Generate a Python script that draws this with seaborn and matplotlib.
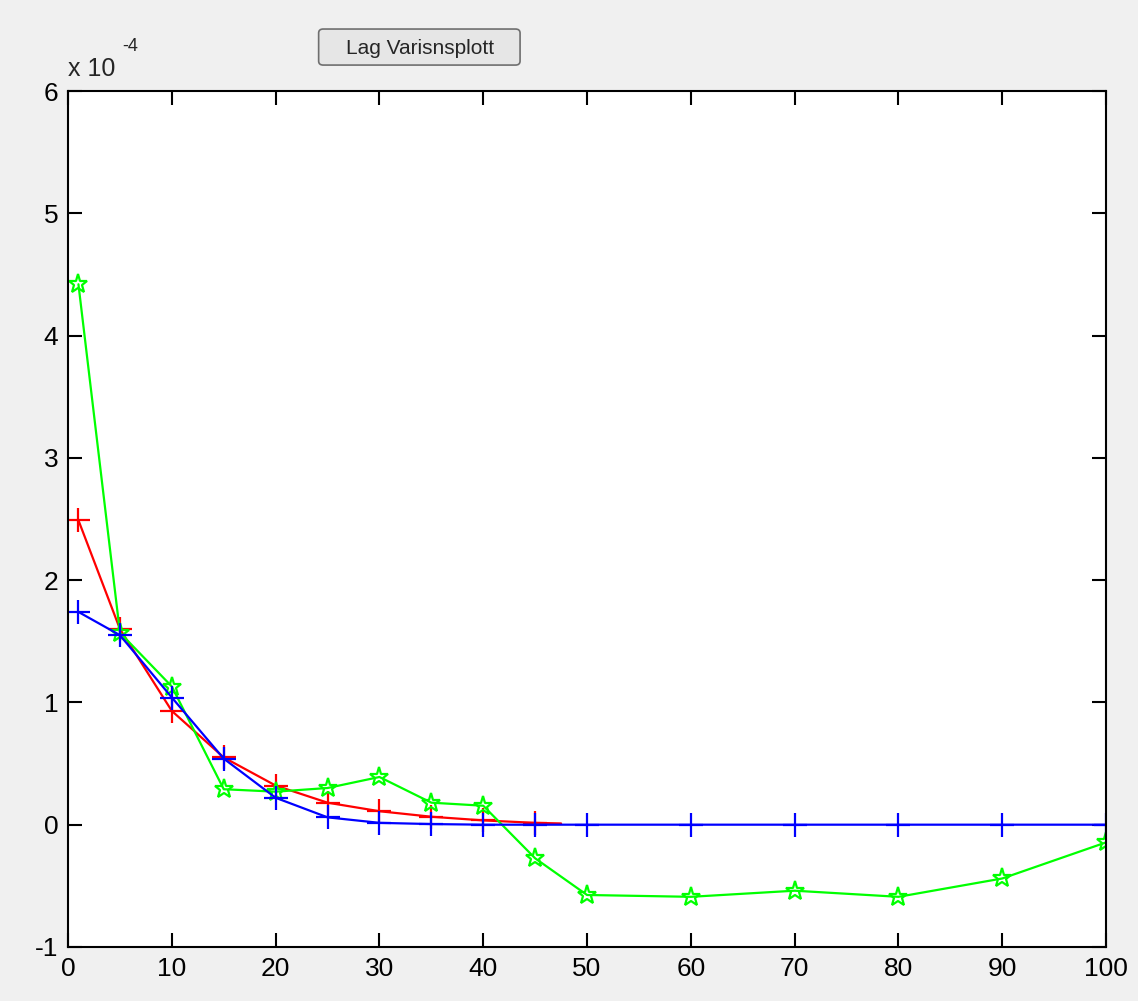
import matplotlib
matplotlib.use('Agg')
import matplotlib.pyplot as plt
from matplotlib.patches import FancyBboxPatch
import seaborn as sns
import pandas as pd

# lag values (x) and variance estimates, in units of 1e-4
lags = [1, 5, 10, 15, 20, 25, 30, 35, 40, 45, 50, 60, 70, 80, 90, 100]
green_vals = [4.42, 1.57, 1.13, 0.29, 0.27, 0.30, 0.39, 0.18, 0.155, -0.275,
              -0.575, -0.59, -0.54, -0.59, -0.44, -0.145]
blue_vals = [1.74, 1.55, 1.04, 0.54, 0.22, 0.06, 0.015, 0.005, 0.0, 0.0,
             0.0, 0.0, 0.0, 0.0, 0.0, 0.0]
red_lags = [1, 5, 10, 15, 20, 25, 30, 35, 40, 45, 47.5]
red_vals = [2.49, 1.60, 0.93, 0.55, 0.32, 0.18, 0.11, 0.065, 0.035, 0.015, 0.01]

xticks = [0, 10, 20, 30, 40, 50, 60, 70, 80, 90, 100]
yticks = [-1, 0, 1, 2, 3, 4, 5, 6]
button_label = 'Lag Varisnsplott'

sns.set_style('ticks')
plt.rcParams['font.family'] = ['Liberation Sans', 'DejaVu Sans']
plt.rcParams['axes.unicode_minus'] = False

fig = plt.figure(figsize=(11.38, 10.01), dpi=100, facecolor='#f0f0f0')
ax = fig.add_axes([0.0598, 0.054, 0.9121, 0.855])
ax.set_facecolor('white')

df_red = pd.DataFrame({'lag': red_lags, 'var': red_vals})
df_blue = pd.DataFrame({'lag': lags, 'var': blue_vals})
df_green = pd.DataFrame({'lag': lags, 'var': green_vals})

sns.lineplot(data=df_red, x='lag', y='var', ax=ax, color='#ff0000', marker='+',
             markersize=17, markeredgecolor='#ff0000', markeredgewidth=1.6,
             linewidth=1.6, markevery=list(range(10)), sort=False)
sns.lineplot(data=df_green, x='lag', y='var', ax=ax, color='#00ff00', marker='*',
             markersize=14, markerfacecolor='none', markeredgecolor='#00ff00',
             markeredgewidth=1.6, linewidth=1.6, sort=False)
sns.lineplot(data=df_blue, x='lag', y='var', ax=ax, color='#0000ff', marker='+',
             markersize=17, markeredgecolor='#0000ff', markeredgewidth=1.6,
             linewidth=1.6, sort=False)

ax.set_xlim(0, 100)
ax.set_ylim(-1, 6)
ax.set_xticks(xticks)
ax.set_yticks(yticks)
ax.set_xlabel('')
ax.set_ylabel('')
ax.tick_params(direction='in', length=10, width=1.5, labelsize=19,
               top=True, right=True, pad=7, colors='black')
for s in ax.spines.values():
    s.set_linewidth(1.5)
    s.set_color('black')

# MATLAB-style exponent label
ax.text(0.0, 1.012, 'x 10', transform=ax.transAxes, fontsize=18,
        ha='left', va='bottom')
ax.text(0.052, 1.042, '-4', transform=ax.transAxes, fontsize=13,
        ha='left', va='bottom')

# push button above the axes
btn = FancyBboxPatch((0.280, 0.935), 0.177, 0.036, transform=fig.transFigure,
                     boxstyle='round,pad=0,rounding_size=0.004',
                     facecolor='#e6e6e6', edgecolor='#6f6f6f', linewidth=1.2)
fig.patches.append(btn)
fig.text(0.369, 0.952, button_label, ha='center', va='center', fontsize=15)

fig.savefig('out.png', dpi=100, facecolor=fig.get_facecolor())
